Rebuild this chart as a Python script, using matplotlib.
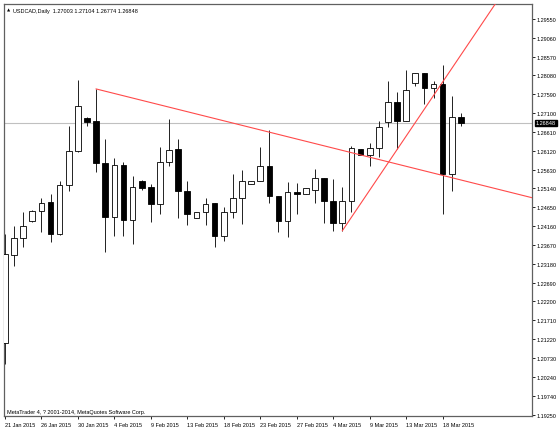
import numpy as np
import matplotlib.pyplot as plt
from matplotlib.transforms import blended_transform_factory

plt.rcParams['font.family'] = ['Liberation Sans', 'DejaVu Sans']

######################
# USDCAD daily bars, 21 Jan 2015 .. 20 Mar 2015 (Sunday bars included)
opens = [1.2112, 1.2341, 1.2385, 1.2430, 1.2456, 1.2479, 1.2396, 1.2523, 1.2612, 1.2697,
         1.2690, 1.2580, 1.2440, 1.2575, 1.2432, 1.2534, 1.2518, 1.2474, 1.2583, 1.2617,
         1.2508, 1.2437, 1.2453, 1.2476, 1.2391, 1.2453, 1.2489, 1.2526, 1.2534, 1.2573,
         1.2495, 1.2430, 1.2505, 1.2500, 1.2510, 1.2541, 1.2482, 1.2424, 1.2482, 1.2617,
         1.2601, 1.2619, 1.2687, 1.2739, 1.2690, 1.2788, 1.2815, 1.2775, 1.2786, 1.2552,
         1.27003]
highs = [1.2396, 1.2417, 1.2453, 1.2458, 1.2489, 1.2500, 1.2534, 1.2677, 1.2796, 1.2700,
         1.2773, 1.2643, 1.2593, 1.2583, 1.2547, 1.2536, 1.2526, 1.2622, 1.2695, 1.2643,
         1.2534, 1.2453, 1.2489, 1.2476, 1.2466, 1.2552, 1.2562, 1.2534, 1.2622, 1.2666,
         1.2495, 1.2531, 1.2528, 1.2515, 1.2565, 1.2541, 1.2539, 1.2518, 1.2625, 1.2617,
         1.2632, 1.2690, 1.2794, 1.2765, 1.2822, 1.2815, 1.2815, 1.2794, 1.2835, 1.2755,
         1.27104]
lows = [1.2058, 1.2313, 1.2362, 1.2427, 1.2401, 1.2375, 1.2393, 1.2508, 1.2609, 1.2677,
        1.2557, 1.2349, 1.2391, 1.2391, 1.2370, 1.2510, 1.2427, 1.2448, 1.2573, 1.2437,
        1.2419, 1.2437, 1.2419, 1.2362, 1.2378, 1.2437, 1.2422, 1.2526, 1.2534, 1.2476,
        1.2401, 1.2388, 1.2448, 1.2500, 1.2476, 1.2424, 1.2404, 1.2404, 1.2453, 1.2601,
        1.2573, 1.2596, 1.2674, 1.2617, 1.2690, 1.2781, 1.2734, 1.2749, 1.2448, 1.2508,
        1.26774]
closes = [1.2344, 1.2385, 1.2417, 1.2456, 1.2476, 1.2396, 1.2523, 1.2612, 1.2729, 1.2687,
          1.2580, 1.2440, 1.2575, 1.2432, 1.2518, 1.2515, 1.2474, 1.2583, 1.2614, 1.2508,
          1.2448, 1.2453, 1.2474, 1.2391, 1.2453, 1.2489, 1.2534, 1.2534, 1.2573, 1.2495,
          1.2430, 1.2505, 1.2500, 1.2515, 1.2541, 1.2482, 1.2424, 1.2482, 1.2619, 1.2601,
          1.2619, 1.2674, 1.2739, 1.2690, 1.2770, 1.2815, 1.2775, 1.2786, 1.2552, 1.2700,
          1.26848]

date_ticks = [0, 4, 8, 12, 16, 20, 24, 28, 32, 36, 40, 44, 48]
date_labels = ['21 Jan 2015', '26 Jan 2015', '30 Jan 2015', '4 Feb 2015', '9 Feb 2015',
               '13 Feb 2015', '18 Feb 2015', '23 Feb 2015', '27 Feb 2015', '4 Mar 2015',
               '9 Mar 2015', '13 Mar 2015', '18 Mar 2015']
price_ticks = [1.19250, 1.19740, 1.20240, 1.20730, 1.21220, 1.21710, 1.22200, 1.22690,
               1.23180, 1.23670, 1.24160, 1.24650, 1.25140, 1.25630, 1.26120, 1.26610,
               1.27100, 1.27590, 1.28080, 1.28570, 1.29060, 1.29550]

# trend lines: two anchor points each (bar index, price), drawn as rays to the right
down_line = [(10, 1.2773), (48, 1.2548)]
up_line = [(37, 1.2404), (48, 1.2791)]
##########################


def ray(ax, pts, x_end, color='#ff4a4a'):
    (x1, y1), (x2, y2) = pts
    slope = (y2 - y1) / (x2 - x1)
    ax.plot([x1, x_end], [y1, y1 + slope * (x_end - x1)], color=color, lw=0.8, zorder=5)


def main():
    fig = plt.figure(figsize=(5.59, 4.35), dpi=100)
    ax = fig.add_axes([4 / 559, 18 / 435, 528 / 559, 412 / 435])

    o = np.array(opens)
    h = np.array(highs)
    l = np.array(lows)
    c = np.array(closes)
    x = np.arange(len(o))
    up = c >= o

    ax.vlines(x, l, h, color='#202020', lw=0.7, zorder=2)
    body_lo = np.minimum(o, c)
    body_h = np.maximum(np.abs(c - o), 0.00008)
    ax.bar(x[up], body_h[up], bottom=body_lo[up], width=0.62,
           color='white', edgecolor='black', lw=0.6, zorder=3)
    ax.bar(x[~up], body_h[~up], bottom=body_lo[~up], width=0.62,
           color='black', edgecolor='black', lw=0.6, zorder=3)

    xmax = 57.8
    ax.set_xlim(-0.1, xmax)
    ax.set_ylim(1.1922, 1.2994)

    ray(ax, down_line, xmax + 1)
    ray(ax, up_line, xmax + 1)

    # last price line
    last = closes[-1]
    ax.axhline(last, color='#c0c0c0', lw=0.8, zorder=1)
    trans = blended_transform_factory(ax.transAxes, ax.transData)
    ax.text(1.0075, last, '%.5f' % last, transform=trans, fontsize=4, color='white',
            va='center', ha='left',
            bbox=dict(facecolor='black', edgecolor='black', pad=0.6), clip_on=False)

    ax.yaxis.tick_right()
    ax.set_yticks(price_ticks)
    ax.set_yticklabels(['%.5f' % p for p in price_ticks])
    ax.set_xticks(date_ticks)
    ax.set_xticklabels(date_labels, ha='left')
    ax.tick_params(axis='y', direction='out', length=2, width=0.6, pad=1.5,
                   labelsize=4, colors='black')
    ax.tick_params(axis='x', direction='out', length=2.5, width=0.6, pad=1.5,
                   labelsize=4, colors='black')
    for lab in ax.get_xticklabels():
        lab.set_x(0)
    for s in ax.spines.values():
        s.set_color('#606060')
        s.set_linewidth(0.9)

    ax.text(3 / 528, 1 - 6 / 412, '\u25b2', transform=ax.transAxes, fontsize=3,
            va='center', ha='left', family=['DejaVu Sans'])
    ax.text(9 / 528, 1 - 6 / 412, 'USDCAD,Daily  1.27003 1.27104 1.26774 1.26848',
            transform=ax.transAxes, fontsize=4, va='center', ha='left')
    ax.text(3 / 528, 4 / 412, 'MetaTrader 4, ? 2001-2014, MetaQuotes Software Corp.',
            transform=ax.transAxes, fontsize=4, va='center', ha='left')

    fig.savefig('out.png', dpi=100)


if __name__ == "__main__":
    main()
